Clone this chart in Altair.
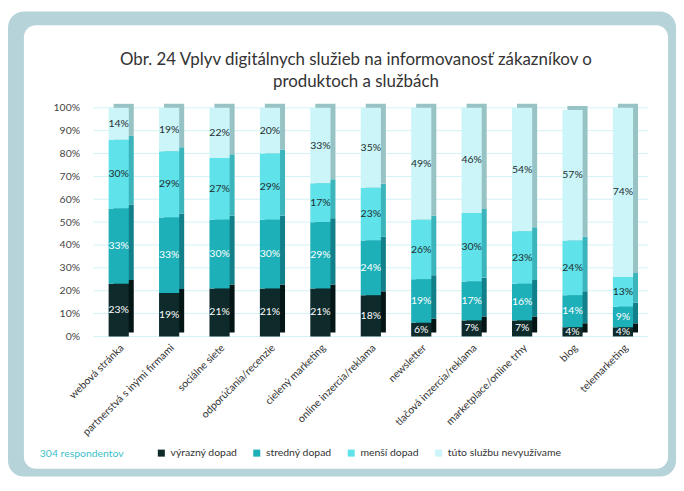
import altair as alt
import pandas as pd

services = [
    "webová stránka", "partnerstvá s inými firmami", "sociálne siete",
    "odporúčania/recenzie", "cielený marketing", "online inzercia/reklama",
    "newsletter", "tlačová inzercia/reklama", "marketplace/online trhy",
    "blog", "telemarketing",
]
categories = ["výrazný dopad", "stredný dopad", "menší dopad", "túto službu nevyužívame"]
vyrazny = [23, 19, 21, 21, 21, 18, 6, 7, 7, 4, 4]
stredny = [33, 33, 30, 30, 29, 24, 19, 17, 16, 14, 9]
mensi = [30, 29, 27, 29, 17, 23, 26, 30, 23, 24, 13]
nevyuzivame = [14, 19, 22, 20, 33, 35, 49, 46, 54, 57, 74]
y_ticks = [0, 10, 20, 30, 40, 50, 60, 70, 80, 90, 100]

title_lines = ["Obr. 24 Vplyv digitálnych služieb na informovanosť zákazníkov o",
               "produktoch a službách"]
note_text = "304 respondentov"

colors = ["#0e2a2b", "#1db0b8", "#5fe2e9", "#cbf5f8"]
side_colors = ["#041516", "#11808a", "#3cb4bc", "#98c3c5"]
text_colors = ["#ffffff", "#ffffff", "#1e2e30", "#1e2e30"]

series = [vyrazny, stredny, mensi, nevyuzivame]
rows = []
for ci, (cat, vals) in enumerate(zip(categories, series)):
    for s, v in zip(services, vals):
        rows.append({"service": s, "category": cat, "value": v, "order": ci,
                     "label": f"{v}%", "side": side_colors[ci], "tcol": text_colors[ci]})
df = pd.DataFrame(rows)

FONT = "Lato"
W, H = 558, 230
PAD = {"left": 86, "top": 99, "right": 28, "bottom": 141}

xs = alt.Scale(domain=services, paddingInner=0.6, paddingOuter=0.3)
ys = alt.Scale(domain=[0, 100], nice=False)

x_axis = alt.Axis(labelAngle=-45, labelAlign="right", labelBaseline="top", domain=False,
                  ticks=False, grid=False, labelPadding=6, labelFont=FONT,
                  labelFontSize=10.5, labelColor="#333", title=None, labelLimit=300,
                  zindex=3)
y_axis = alt.Axis(values=y_ticks, labelExpr="datum.value + '%'", grid=False,
                  domain=False, ticks=False, labelPadding=14, labelFont=FONT,
                  labelFontSize=10.5, labelColor="#444", title=None, zindex=3)

X = alt.X("service:N", scale=xs, sort=services, axis=x_axis)

base = alt.Chart(df).transform_stack(
    stack="value", groupby=["service"],
    sort=[alt.SortField("order", order="ascending")], as_=["y0", "y1"]
).transform_calculate(mid="(datum.y0 + datum.y1) / 2")

one = alt.Data(values=[{"a": 1}])

outer = alt.Chart(one).mark_rect(cornerRadius=16, color="#b6d3d9").encode(
    x=alt.value(-86), x2=alt.value(586), y=alt.value(-97), y2=alt.value(371))
inner = alt.Chart(one).mark_rect(cornerRadius=12, color="#ffffff").encode(
    x=alt.value(-70), x2=alt.value(578), y=alt.value(-83), y2=alt.value(363))

grid = alt.Chart(pd.DataFrame({"tick": y_ticks})).mark_rule(
    color="#d3f1f5", strokeWidth=1).encode(
    y=alt.Y("tick:Q", scale=ys, axis=y_axis))

back = base.mark_bar(xOffset=5, yOffset=-4, y2Offset=-4).encode(
    x=X,
    y=alt.Y("y0:Q", scale=ys, axis=y_axis), y2="y1:Q",
    color=alt.Color("side:N", scale=None),
    order=alt.Order("order:Q"))

front = base.mark_bar().encode(
    x=X,
    y=alt.Y("y0:Q", scale=ys, axis=y_axis), y2="y1:Q",
    color=alt.Color("category:N", scale=alt.Scale(domain=categories, range=colors),
                    legend=alt.Legend(
                        orient="none", legendX=63, legendY=342, direction="horizontal",
                        columns=4, title=None, symbolType="square", symbolSize=50,
                        symbolStrokeWidth=0, labelFont=FONT, labelFontSize=10.5,
                        labelColor="#333", columnPadding=14, labelOffset=4, zindex=3)),
    order=alt.Order("order:Q"))

labels = base.mark_text(font=FONT, fontSize=10.5, baseline="middle").encode(
    x=X,
    y=alt.Y("mid:Q", scale=ys, axis=y_axis),
    text="label:N",
    color=alt.Color("tcol:N", scale=None))

note = alt.Chart(one).mark_text(align="left", baseline="middle", font=FONT,
                                fontSize=10.5, color="#3cc0c8").encode(
    x=alt.value(-54), y=alt.value(348), text=alt.value(note_text))

title = alt.Chart(one).mark_text(align="center", baseline="alphabetic", font=FONT,
                                 fontSize=17, color="#333333", lineHeight=22).encode(
    x=alt.value(264), y=alt.value(-43), text=alt.value(title_lines))

chart = alt.layer(outer, inner, grid, back, front, labels, note, title).properties(
    width=W, height=H,
    autosize=alt.AutoSizeParams(type="none"),
    padding=PAD,
    background="#ffffff",
).configure_view(stroke=None)

chart.save("out.html", embed_options={"renderer": "svg", "actions": False})
